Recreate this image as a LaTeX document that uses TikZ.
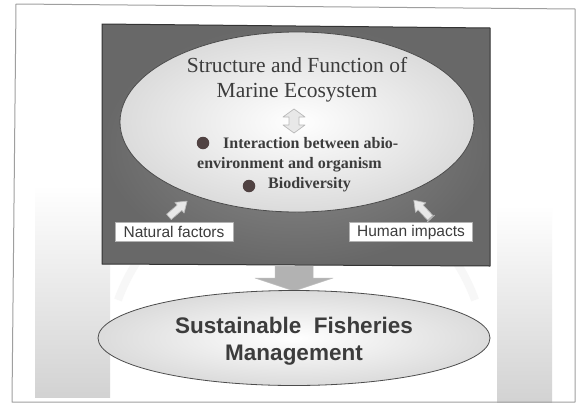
\documentclass[tikz,border=0pt]{standalone}
\usepackage{fontspec}
\setmainfont{Liberation Serif}
\setsansfont{Liberation Sans}
\usetikzlibrary{shapes.geometric}

\definecolor{panelgray}{RGB}{104,104,104}
\definecolor{panellight}{RGB}{140,140,140}
\definecolor{inkgray}{RGB}{60,60,60}
\definecolor{dotgray}{RGB}{80,66,66}
\definecolor{arrowgray}{RGB}{178,178,178}

\begin{document}
\begin{tikzpicture}[
    x=1pt, y=-1pt,
    line join=round,
    frame/.style={draw=gray!75, line width=1pt},
    band/.style={top color=white, bottom color=gray!35, draw=none},
    panel/.style={draw=gray!40!black, line width=1pt, inner color=panellight, outer color=panelgray},
    oval/.style={ellipse, draw=gray!60!black, line width=0.8pt, inner color=white, outer color=gray!28, inner sep=0pt},
    title/.style={font=\fontsize{21.5}{25}\selectfont, text=inkgray, align=center},
    item/.style={font=\fontsize{16}{18}\selectfont\bfseries, text=inkgray, anchor=west, inner sep=0pt},
    dot/.style={circle, fill=dotgray, inner sep=0pt, minimum size=12.5pt},
    tag/.style={draw=gray!60, fill=white, line width=0.8pt, font=\sffamily\fontsize{15.5}{17}\selectfont, text=inkgray, inner sep=1.5pt, minimum height=19pt},
    blockarrow/.style={draw=gray!55, fill=gray!18, line width=0.7pt},
    bigarrow/.style={draw=gray!50, fill=arrowgray, line width=0.5pt},
    goal/.style={font=\sffamily\bfseries\fontsize{22.5}{27}\selectfont, text=inkgray, align=center}
]
\useasboundingbox (0,0) rectangle (577,407);

\fill[white] (0,0) rectangle (577,407);
\fill[band] (35,185) rectangle (110,397);
\fill[band] (497,205) rectangle (552,402);
\draw[gray!6, line width=8pt] (118,300) arc (200:340:190);

\draw[frame] (16,4) -- (575,9) -- (575,402) -- (12,402) -- cycle;

\draw[panel] (102,24) -- (490,28) -- (490,266) -- (102,264) -- cycle;

\node[oval, minimum width=354pt, minimum height=180pt] (eco) at (297,122) {};
\node[title] (ecotitle) at (297,80) {Structure and Function of\\Marine Ecosystem};

\draw[blockarrow] (294,109) -- (305,117) -- (299,117) -- (299,125) -- (305,125)
  -- (294,133) -- (283,125) -- (289,125) -- (289,117) -- (283,117) -- cycle;

\node[dot] (d1) at (203,143) {};
\node[item] (i1) at (223,143) {Interaction between abio-};
\node[item] (i2) at (197,165) {environment and organism};
\node[dot] (d2) at (249,186) {};
\node[item] (i3) at (268,185) {Biodiversity};

\node[tag, minimum width=118pt] (nat) at (174,232) {Natural factors};
\node[tag, minimum width=123pt] (hum) at (411,232) {Human impacts};

\begin{scope}[shift={(178,209)}, rotate=41]
  \draw[blockarrow] (-12,-3.5) -- (2,-3.5) -- (2,-7) -- (12,0) -- (2,7) -- (2,3.5) -- (-12,3.5) -- cycle;
\end{scope}
\begin{scope}[shift={(422,209)}, rotate=133]
  \draw[blockarrow] (-12,-3.5) -- (2,-3.5) -- (2,-7) -- (12,0) -- (2,7) -- (2,3.5) -- (-12,3.5) -- cycle;
  \draw[gray!55, line width=1pt] (-13,-5) -- (-13,5);
\end{scope}

\draw[bigarrow] (275,266) -- (313,266) -- (313,278) -- (333,278) -- (294,291)
  -- (255,278) -- (275,278) -- cycle;

\node[oval, minimum width=392pt, minimum height=95pt] (sfm) at (294,338) {};
\node[goal] (sfmtext) at (294,341) {Sustainable\ \ Fisheries\\Management};

\end{tikzpicture}
\end{document}
